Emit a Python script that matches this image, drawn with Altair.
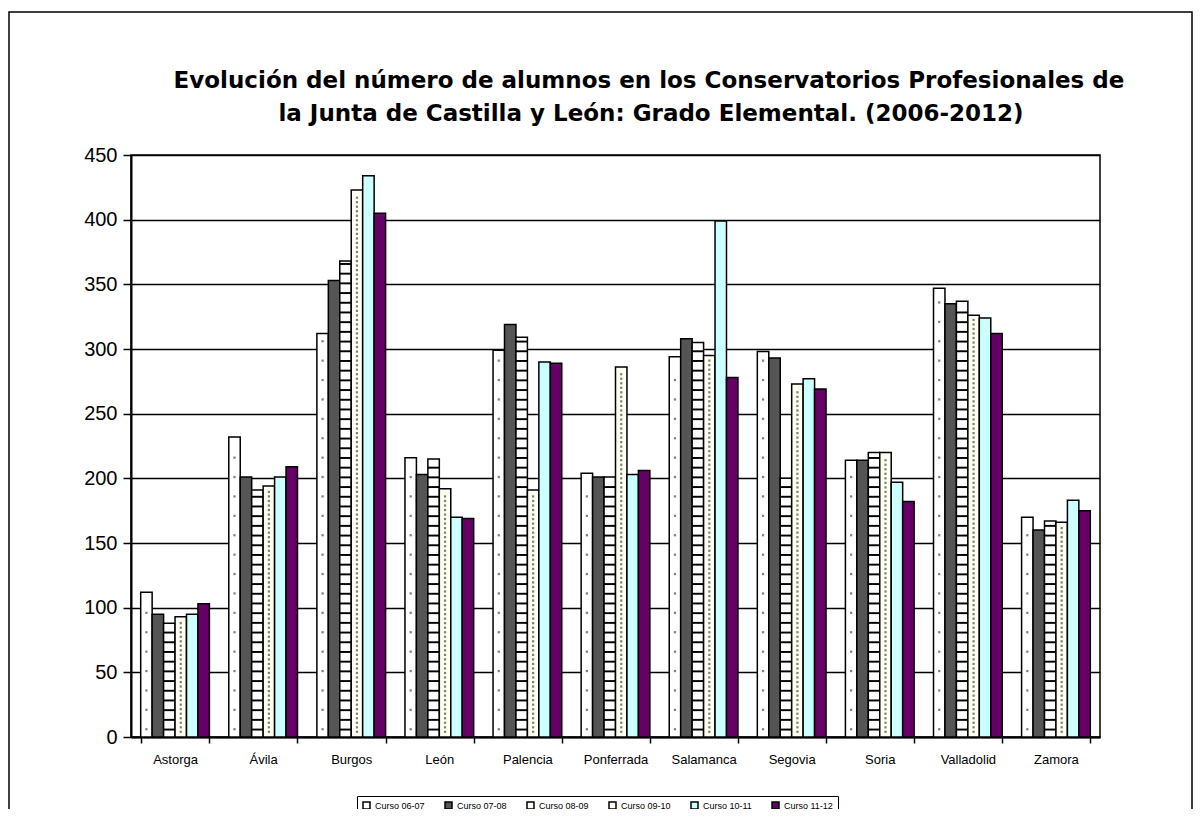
import altair as alt
import pandas as pd

cities = ["Astorga", "Ávila", "Burgos", "León", "Palencia", "Ponferrada",
          "Salamanca", "Segovia", "Soria", "Valladolid", "Zamora"]
series = ["Curso 06-07", "Curso 07-08", "Curso 08-09", "Curso 09-10",
          "Curso 10-11", "Curso 11-12"]
c0607 = [112, 232, 312, 216, 299, 204, 294, 298, 214, 347, 170]
c0708 = [95, 201, 353, 203, 319, 201, 308, 293, 214, 335, 160]
c0809 = [88, 191, 368, 215, 309, 201, 305, 200, 220, 337, 167]
c0910 = [93, 194, 423, 192, 191, 286, 295, 273, 220, 326, 166]
c1011 = [95, 201, 434, 170, 290, 203, 399, 277, 197, 324, 183]
c1112 = [103, 209, 405, 169, 289, 206, 278, 269, 182, 312, 175]
colors = ["#ffffff", "#555555", "#ffffff", "#fffff2", "#ccffff", "#660066"]
y_ticks = [0, 50, 100, 150, 200, 250, 300, 350, 400, 450]
title_lines = ["Evolución del número de alumnos en los Conservatorios Profesionales de",
               "la Junta de Castilla y León: Grado Elemental. (2006-2012)"]

rows = []
for s, vals in zip(series, [c0607, c0708, c0809, c0910, c1011, c1112]):
    for c, v in zip(cities, vals):
        rows.append({"city": c, "serie": s, "value": v})
df = pd.DataFrame(rows)

FONT = "Liberation Sans"

x_enc = alt.X("city:N", sort=cities,
              scale=alt.Scale(domain=cities, paddingInner=0.22, paddingOuter=0.11),
              axis=alt.Axis(title=None, labelAngle=0, tickBand="extent", grid=False,
                            labelFontSize=13, tickSize=6, labelPadding=10,
                            domainWidth=2))
xoff_enc = alt.XOffset("serie:N", sort=series, scale=alt.Scale(domain=series))
y_scale = alt.Scale(domain=[0, 450], nice=False)
y_axis = alt.Axis(title=None, values=y_ticks, labelFontSize=20, tickSize=8,
                  labelPadding=6, grid=True, domainWidth=2)

bars = alt.Chart(df).mark_bar(stroke="black", strokeWidth=1.5).encode(
    x=x_enc,
    xOffset=xoff_enc,
    y=alt.Y("value:Q", scale=y_scale, axis=y_axis),
    color=alt.Color("serie:N", sort=series,
                    scale=alt.Scale(domain=series, range=colors),
                    legend=alt.Legend(title=None, orient="none", legendX=226, legendY=641,
                                      direction="horizontal", columns=6,
                                      strokeColor="black", fillColor="white", padding=5,
                                      symbolType="square", symbolSize=49,
                                      symbolStrokeColor="black", symbolStrokeWidth=1.5,
                                      labelFontSize=9, labelFont=FONT, columnPadding=17,
                                      labelOffset=4)),
)


def fill_layer(serie, expr, mark):
    return alt.Chart(df).transform_filter(
        alt.datum.serie == serie
    ).transform_calculate(
        s=expr
    ).transform_flatten(["s"]).mark_square(**mark).encode(
        x=x_enc,
        xOffset=xoff_enc,
        y=alt.Y("s:Q", scale=y_scale, axis=y_axis),
    )


stripes = alt.Chart(df).transform_filter(
    alt.datum.serie == "Curso 08-09"
).transform_calculate(
    s="sequence(5, datum.value - 2, 7.5)"
).transform_flatten(["s"]).transform_calculate(
    s2="datum.s + 1.5"
).mark_bar(color="black").encode(
    x=x_enc,
    xOffset=xoff_enc,
    y=alt.Y("s:Q", scale=y_scale, axis=y_axis),
    y2="s2:Q",
)

dots1 = fill_layer("Curso 06-07", "sequence(6, datum.value - 4, 15)",
                   dict(size=5, color="#808080", opacity=1, xOffset=1))
dots4a = fill_layer("Curso 09-10", "sequence(4, datum.value - 3, 7)",
                    dict(size=5, color="#808080", opacity=1, xOffset=-3))
dots4b = fill_layer("Curso 09-10", "sequence(7.5, datum.value - 3, 7)",
                    dict(size=5, color="#808080", opacity=1, xOffset=3))

frame = alt.Chart(pd.DataFrame({"k": [0]})).mark_rect(
    fill=None, stroke="black", strokeWidth=1.5
).encode(
    x=alt.value(-122), x2=alt.value(1061), y=alt.value(-143), y2=alt.value(700)
)

title1 = alt.Chart(pd.DataFrame({"t": [title_lines[0]]})).mark_text(
    font="DejaVu Sans", fontWeight="bold", fontSize=23, align="center",
    baseline="alphabetic", color="black"
).encode(text="t:N", x=alt.value(518), y=alt.value(-67))
title2 = alt.Chart(pd.DataFrame({"t": [title_lines[1]]})).mark_text(
    font="DejaVu Sans", fontWeight="bold", fontSize=23, align="center",
    baseline="alphabetic", color="black"
).encode(text="t:N", x=alt.value(520), y=alt.value(-34))

chart = alt.layer(bars, stripes, dots1, dots4a, dots4b, frame, title1, title2).properties(
    width=969, height=582,
    autosize="none",
    padding={"left": 123, "top": 147, "right": 94, "bottom": 72},
).configure_view(
    stroke="black", strokeWidth=1.5
).configure_axis(
    labelFont=FONT, labelColor="black", domainColor="black", tickColor="black",
    tickWidth=1.5, gridColor="black", gridWidth=1.3
)

chart.save("out.html", embed_options={"renderer": "svg", "actions": False})
